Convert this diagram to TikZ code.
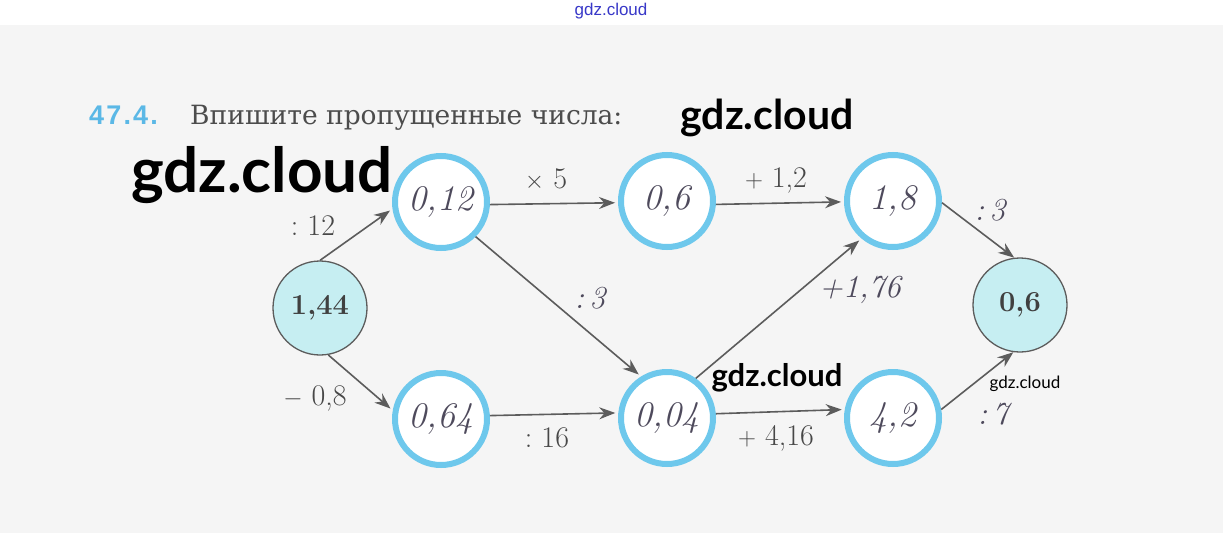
\documentclass[tikz,border=0pt]{standalone}
\usepackage{fontspec}
\usetikzlibrary{arrows.meta}
\newfontfamily\wmfont{Lato}
\newfontfamily\titlefont{DejaVu Serif}
\newfontfamily\numfont[LetterSpace=8]{Liberation Sans}
\newfontfamily\topfont{Liberation Sans}
\definecolor{ringblue}{HTML}{6EC8EC}
\definecolor{fillcyan}{HTML}{C6EEF2}
\definecolor{handcol}{HTML}{4E4A5C}
\definecolor{edgegray}{HTML}{5C5C5C}
\definecolor{bggray}{HTML}{F5F5F5}
\definecolor{titleblue}{HTML}{5BB8E6}
\definecolor{topblue}{HTML}{3838C8}
\tikzset{
  ring/.style={circle, draw=ringblue, line width=6pt, fill=white, minimum size=92pt, inner sep=0pt,
    text=handcol, font=\fontsize{36}{36}\selectfont\itshape},
  given/.style={circle, draw=edgegray, line width=1.3pt, fill=fillcyan, minimum size=94pt, inner sep=0pt,
    text=black!75, font=\fontsize{29}{29}\selectfont\bfseries},
  arr/.style={draw=edgegray, line width=1.6pt, -{Stealth[length=16pt,width=12pt]}},
  arrring/.style={arr, shorten >=3pt},
  lbl/.style={text=black!72, font=\fontsize{30}{30}\selectfont},
  hlbl/.style={text=handcol, font=\fontsize{32}{32}\selectfont\itshape},
  wm/.style={text=black, font=\wmfont\bfseries}
}
\begin{document}
\begin{tikzpicture}[x=1pt,y=-1pt]
\useasboundingbox (0,0) rectangle (1223,533);
\fill[white] (0,0) rectangle (1223,25);
\fill[bggray] (0,25) rectangle (1223,533);
\node[text=topblue, font=\topfont\fontsize{17}{17}\selectfont] (top) at (611,11) {gdz.cloud};
% title
\node[anchor=base west, text=titleblue, font=\numfont\bfseries\fontsize{27}{27}\selectfont, inner sep=0] (num) at (89,124) {47.4.};
\node[anchor=base west, text=black!70, font=\titlefont\fontsize{26.5}{26.5}\selectfont, inner sep=0] (title) at (190,124) {Впишите пропущенные числа:};
% nodes
\node[given] (a) at (320,308) {1,44};
\node[ring] (b) at (441,202) {0,12};
\node[ring] (c) at (667,201) {0,6};
\node[ring] (e) at (893,201) {1,8};
\node[ring] (d) at (441,419) {0,64};
\node[ring] (f) at (667,418) {0,04};
\node[ring] (g) at (893,418) {4,2};
\node[given] (h) at (1020,305) {0,6};
% edges
\draw[arrring] (a.90) -- (b.188);
\draw[arrring] (a.-80) -- (d.170);
\draw[arrring] (b.-3) -- (c.182);
\draw[arrring] (c.-4) -- (e.181);
\draw[arrring] (b.-45) -- (f.122);
\draw[arrring] (f.54) -- (e.-130);
\draw[arrring] (d.4) -- (f.174);
\draw[arrring] (f.5) -- (g.170);
\draw[arr] (e.-2) -- (h.97);
\draw[arr] (g.10) -- (h.-98);
% labels
\node[lbl] (l1) at (313,226) {:\ 12};
\node[lbl] (l2) at (546,180) {$\times$\ 5};
\node[lbl] (l3) at (776,180) {$+$\ 1,2};
\node[lbl] (l4) at (315,398) {$-$\ 0,8};
\node[lbl] (l5) at (547,438) {:\ 16};
\node[lbl] (l6) at (776,438) {$+$\ 4,16};
\node[hlbl] (h1) at (990,210) {:\,3};
\node[hlbl] (h2) at (590,298) {:\,3};
\node[hlbl] (h3) at (860,290) {+1,76};
\node[hlbl] (h4) at (993,414) {:\,7};
% watermarks
\node[wm, font=\wmfont\bfseries\fontsize{62}{62}\selectfont] (w1) at (262,175) {gdz.cloud};
\node[wm, font=\wmfont\bfseries\fontsize{41}{41}\selectfont] (w2) at (767,118) {gdz.cloud};
\node[wm, font=\wmfont\bfseries\fontsize{31}{31}\selectfont] (w3) at (777,378) {gdz.cloud};
\node[wm, font=\wmfont\fontsize{17}{17}\selectfont] (w4) at (1025,384) {gdz.cloud};
\end{tikzpicture}
\end{document}
